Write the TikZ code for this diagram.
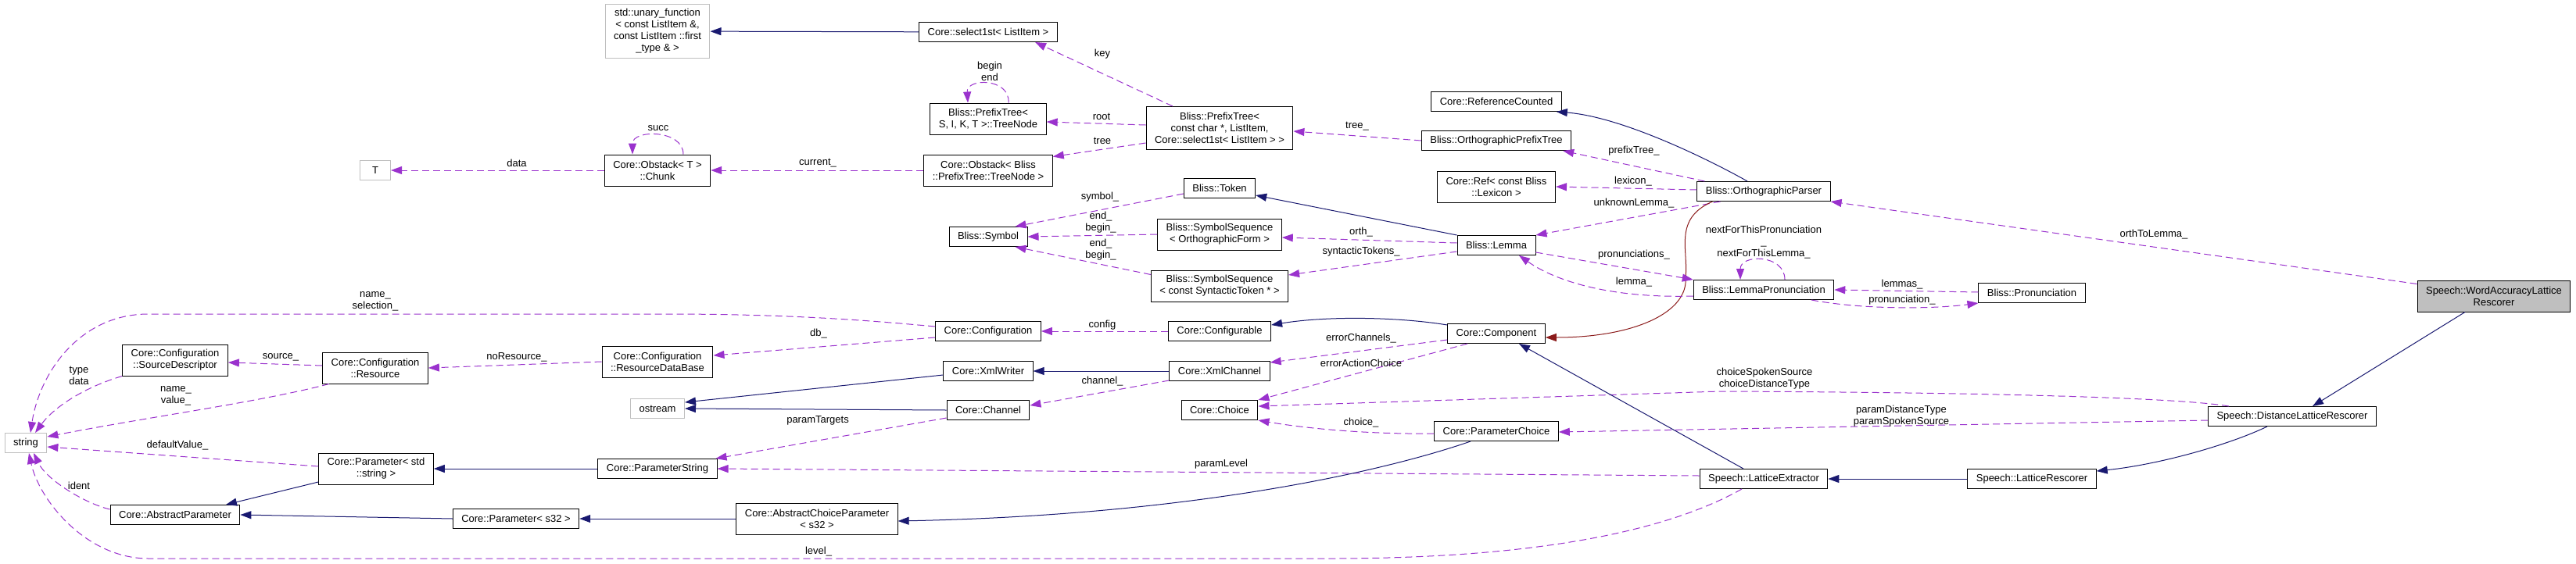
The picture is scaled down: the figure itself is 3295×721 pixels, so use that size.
\documentclass[tikz,border=0pt]{standalone}
\usepackage{fontspec}
\setmainfont{Liberation Sans}
\usetikzlibrary{arrows.meta}
\definecolor{usecol}{HTML}{9A32CD}
\definecolor{inhcol}{HTML}{191970}
\definecolor{privcol}{HTML}{8B1A1A}
\definecolor{extgray}{HTML}{BFBFBF}

\begin{document}
\begin{tikzpicture}[x=1pt,y=-1pt,
  font={\fontsize{13}{15}\selectfont},
  cls/.style={draw=black,line width=1pt,inner xsep=11pt,inner ysep=0pt,
    minimum height=25pt,align=center},
  ext/.style={cls,draw=extgray},
  dep/.style={draw=usecol,line width=1pt,dash pattern=on 9pt off 5pt,
    -{Triangle[length=14pt,width=10pt]}},
  inh/.style={draw=inhcol,line width=1pt,-{Triangle[length=14pt,width=10pt]}},
  priv/.style={draw=privcol,line width=1pt,-{Triangle[length=14pt,width=10pt]}},
  lbl/.style={align=center,inner sep=0pt}]
\useasboundingbox (0,0) rectangle (3295,721);

\node[ext] (STR) at (33,567) {string};
\node[ext,minimum width=39pt] (T) at (480,218) {T};
\node[cls,minimum height=40pt] (SRCD) at (224,461)
{Core::Configuration\\::SourceDescriptor};
\node[cls] (ABSP) at (224,659) {Core::AbstractParameter};
\node[cls,minimum height=40pt] (RES) at (480,471)
{Core::Configuration\\::Resource};
\node[cls,minimum height=40pt] (PSTD) at (481,600)
{Core::Parameter< std\\::string >};
\node[cls] (PS32) at (660,664) {Core::Parameter< s32 >};
\node[ext,minimum height=69pt] (UNF) at (841,40)
{std::unary\_function\\< const ListItem \&,\\const ListItem ::first\\\_type \& >};
\node[cls,minimum height=40pt] (CHK) at (841,218)
{Core::Obstack< T >\\::Chunk};
\node[cls,minimum height=40pt] (RDB) at (841,463)
{Core::Configuration\\::ResourceDataBase};
\node[ext] (OST) at (841,523) {ostream};
\node[cls] (PSTR) at (841,600) {Core::ParameterString};
\node[cls,minimum height=40pt] (ACP) at (1045,664)
{Core::AbstractChoiceParameter\\< s32 >};
\node[cls] (SEL) at (1264,41) {Core::select1st< ListItem >};
\node[cls,minimum height=40pt] (TN) at (1264,152)
{Bliss::PrefixTree<\\S, I, K, T >::TreeNode};
\node[cls,minimum height=40pt] (OTN) at (1264,218)
{Core::Obstack< Bliss\\::PrefixTree::TreeNode >};
\node[cls] (SYM) at (1264,303) {Bliss::Symbol};
\node[cls] (CONF) at (1264,424) {Core::Configuration};
\node[cls] (XW) at (1264,475) {Core::XmlWriter};
\node[cls] (CH) at (1264,525) {Core::Channel};
\node[cls,minimum height=55pt] (PT) at (1560,164)
{Bliss::PrefixTree<\\const char *, ListItem,\\Core::select1st< ListItem > >};
\node[cls] (TOK) at (1560,241) {Bliss::Token};
\node[cls,minimum height=40pt] (SSO) at (1560,300)
{Bliss::SymbolSequence\\< OrthographicForm >};
\node[cls,minimum height=40pt] (SSS) at (1560,366)
{Bliss::SymbolSequence\\< const SyntacticToken * >};
\node[cls] (CFG) at (1560,424) {Core::Configurable};
\node[cls] (XC) at (1560,475) {Core::XmlChannel};
\node[cls] (CHO) at (1560,525) {Core::Choice};
\node[cls] (RC) at (1914,130) {Core::ReferenceCounted};
\node[cls] (OPT) at (1914,180) {Bliss::OrthographicPrefixTree};
\node[cls,minimum height=40pt] (REF) at (1914,239)
{Core::Ref< const Bliss\\::Lexicon >};
\node[cls] (LEM) at (1914,314) {Bliss::Lemma};
\node[cls] (COMP) at (1914,427) {Core::Component};
\node[cls] (PCH) at (1914,552) {Core::ParameterChoice};
\node[cls] (OP) at (2256,245) {Bliss::OrthographicParser};
\node[cls] (LP) at (2256,371) {Bliss::LemmaPronunciation};
\node[cls] (PRON) at (2599,375) {Bliss::Pronunciation};
\node[cls] (LEX) at (2256,613) {Speech::LatticeExtractor};
\node[cls] (LR) at (2599,613) {Speech::LatticeRescorer};
\node[cls] (DLR) at (2932,533) {Speech::DistanceLatticeRescorer};
\node[cls,fill=extgray,minimum height=40pt] (WALR) at (3190,379)
{Speech::WordAccuracyLattice\\Rescorer};

\draw[inh] (SEL) -- (UNF);
\draw[dep] ([xshift=-60pt]PT.north) -- ([xshift=60pt]SEL.south)
  node[lbl] at (1410,69) {key};
\draw[dep] ([xshift=26pt]TN.north) .. controls +(2,-32) and +(-2,-32) .. ([xshift=-26pt]TN.north)
  node[lbl] at (1266,91) {begin\\end};
\draw[dep] ([yshift=4pt]PT.west) -- ([yshift=-4pt]TN.east)
  node[lbl] at (1409,149) {root};
\draw[dep] ([yshift=-19pt]PT.west) -- ([yshift=-3pt]OTN.north east)
  node[lbl] at (1410,180) {tree};
\draw[dep] (OTN) -- (CHK)
  node[lbl] at (1046,209) {current\_};
\draw[dep] ([xshift=33pt]CHK.north) .. controls +(0,-32) and +(0,-32) .. ([xshift=-32pt]CHK.north)
  node[lbl] at (842,164) {succ};
\draw[dep] (CHK) -- (T)
  node[lbl] at (661,209) {data};

\draw[inh] ([xshift=-21pt]OP.north) .. controls (2200,212) and (2080,150) .. ([xshift=-7pt]RC.south east);
\draw[dep] ([xshift=10pt]OP.north west) -- ([xshift=-11pt]OPT.south east)
  node[lbl] at (2090,193) {prefixTree\_};
\draw[dep] (OPT.west) -- ([yshift=-4pt]PT.east)
  node[lbl] at (1736,162) {tree\_};
\draw[dep] ([yshift=2pt]OP.west) -- (REF.east)
  node[lbl] at (2089,232) {lexicon\_};
\draw[dep] ([xshift=30pt]OP.south west) -- (LEM.north east)
  node[lbl] at (2090,260) {unknownLemma\_};
\draw[priv] ([xshift=20pt]OP.south west) .. controls (2140,280) and (2160,320) .. (2156,355)
  .. controls (2160,400) and (2090,432) .. ([yshift=-5pt]COMP.east);

\draw[dep] ([yshift=-7pt]TOK.west) -- ([xshift=-16pt]SYM.north east)
  node[lbl] at (1407,252) {symbol\_};
\draw[dep] (SSO.west) -- (SYM.east)
  node[lbl] at (1408,285) {end\_\\begin\_};
\draw[dep] ([yshift=-6pt]SSS.north west) -- ([xshift=-16pt]SYM.south east)
  node[lbl] at (1408,320) {end\_\\begin\_};
\draw[inh] (LEM.north west) -- ([yshift=-9pt]TOK.east);
\draw[dep] ([yshift=3pt]LEM.west) -- ([yshift=-4pt]SSO.east)
  node[lbl] at (1741,297) {orth\_};
\draw[dep] ([yshift=-8pt]LEM.west) -- ([yshift=14pt]SSS.east)
  node[lbl] at (1741,322) {syntacticTokens\_};
\draw[dep] ([yshift=-9pt]LEM.east) -- (LP.north west)
  node[lbl] at (2090,326) {pronunciations\_};
\draw[dep] ([yshift=-8pt]LP.west) .. controls (2060,382) and (1990,360) .. ([xshift=29pt]LEM.south)
  node[lbl] at (2090,361) {lemma\_};
\draw[dep] ([xshift=27pt]LP.north) .. controls +(0,-33) and +(0,-33) .. ([xshift=-30pt]LP.north)
  node[lbl] at (2256,310) {nextForThisPronunciation\\\_\\nextForThisLemma\_};
\draw[dep] ([yshift=1pt]PRON.west) -- (LP.east)
  node[lbl] at (2433,364) {lemmas\_};
\draw[dep] ([xshift=61pt]LP.south) .. controls (2380,396) and (2470,396) .. (PRON.south west)
  node[lbl] at (2433,384) {pronunciation\_};

\draw[dep] ([yshift=6pt]CONF.west) .. controls (1100,409) and (1000,402) .. (850,402) -- (190,402)
  .. controls (100,402) and (50,480) .. ([xshift=6pt]STR.north)
  node[lbl] at (480,386) {name\_\\selection\_};
\draw[dep] ([yshift=-8pt]CONF.west) -- ([yshift=8pt]RDB.east)
  node[lbl] at (1047,427) {db\_};
\draw[dep] (CFG) -- (CONF)
  node[lbl] at (1410,416) {config};
\draw[inh] ([yshift=-2pt]COMP.north west) .. controls (1790,406) and (1700,404) .. ([yshift=8pt]CFG.east);
\draw[dep] (RDB.west) -- (RES.east)
  node[lbl] at (661,457) {noResource\_};
\draw[dep] ([yshift=3pt]RES.west) -- ([yshift=-3pt]SRCD.east)
  node[lbl] at (359,457) {source\_};
\draw[dep] (SRCD.south west) .. controls (110,495) and (70,520) .. ([xshift=12pt]STR.north)
  node[lbl] at (101,481) {type\\data};
\draw[dep] ([xshift=-59pt]RES.south) .. controls (330,515) and (200,532) .. ([yshift=8pt]STR.east)
  node[lbl] at (225,507) {name\_\\value\_};
\draw[dep] ([yshift=3pt]PSTD.west) -- ([yshift=-5pt]STR.east)
  node[lbl] at (227,570) {defaultValue\_};
\draw[dep] ([yshift=-6pt]ABSP.north west) .. controls (110,645) and (60,615) .. ([xshift=10pt]STR.south)
  node[lbl] at (101,622) {ident};
\draw[dep] ([xshift=-28pt]LEX.south) .. controls (2150,670) and (2000,715) .. (1700,715) -- (190,715)
  .. controls (110,715) and (50,640) .. ([xshift=4pt]STR.south)
  node[lbl] at (1047,706) {level\_};

\draw[inh] ([yshift=-17pt]PSTD.west) -- ([xshift=65pt]ABSP.north);
\draw[inh] (PS32.west) -- (ABSP.east);
\draw[inh] (PSTR) -- (PSTD);
\draw[inh] (ACP) -- (PS32);
\draw[inh] ([yshift=-5pt]XW.west) -- ([yshift=8pt]OST.east);
\draw[inh] (CH.west) -- (OST.east);
\draw[inh] (XC) -- (XW);
\draw[dep] ([yshift=-12pt]XC.west) -- ([yshift=6pt]CH.east)
  node[lbl] at (1410,488) {channel\_};
\draw[dep] ([yshift=-10pt]CH.west) -- ([xshift=-2pt]PSTR.north east)
  node[lbl] at (1046,538) {paramTargets};
\draw[dep] ([yshift=4pt]LEX.west) -- (PSTR.east)
  node[lbl] at (1562,594) {paramLevel};
\draw[inh] ([xshift=-33pt]PCH.south) .. controls (1750,610) and (1500,660) .. ([yshift=-3pt]ACP.east);
\draw[dep] ([yshift=-3pt]PCH.west) .. controls (1760,556) and (1680,550) .. (CHO.south east)
  node[lbl] at (1741,541) {choice\_};
\draw[dep] ([yshift=-8pt]COMP.west) -- ([yshift=11pt]XC.east)
  node[lbl] at (1741,433) {errorChannels\_};
\draw[dep] ([xshift=-37pt]COMP.south) -- (CHO.north east)
  node[lbl] at (1741,465) {errorActionChoice};
\draw[dep] ([xshift=27pt]DLR.north west) .. controls (2780,508) and (2500,502) .. (2200,501)
  -- ([yshift=5pt]CHO.east)
  node[lbl] at (2257,485) {choiceSpokenSource\\choiceDistanceType};
\draw[dep] ([yshift=-5pt]DLR.west) -- ([yshift=-1pt]PCH.east)
  node[lbl] at (2432,533) {paramDistanceType\\paramSpokenSource};
\draw[inh] ([xshift=-32pt]DLR.south) .. controls (2850,570) and (2760,595) .. ([yshift=10pt]LR.east);
\draw[inh] (LR) -- (LEX);
\draw[inh] ([xshift=-26pt]LEX.north) -- ([xshift=29pt]COMP.south);
\draw[dep] ([yshift=-5pt]WALR.north west) -- (OP.south east)
  node[lbl] at (2755,300) {orthToLemma\_};
\draw[inh] ([xshift=-37pt]WALR.south) -- ([xshift=26pt]DLR.north);
\end{tikzpicture}
\end{document}
